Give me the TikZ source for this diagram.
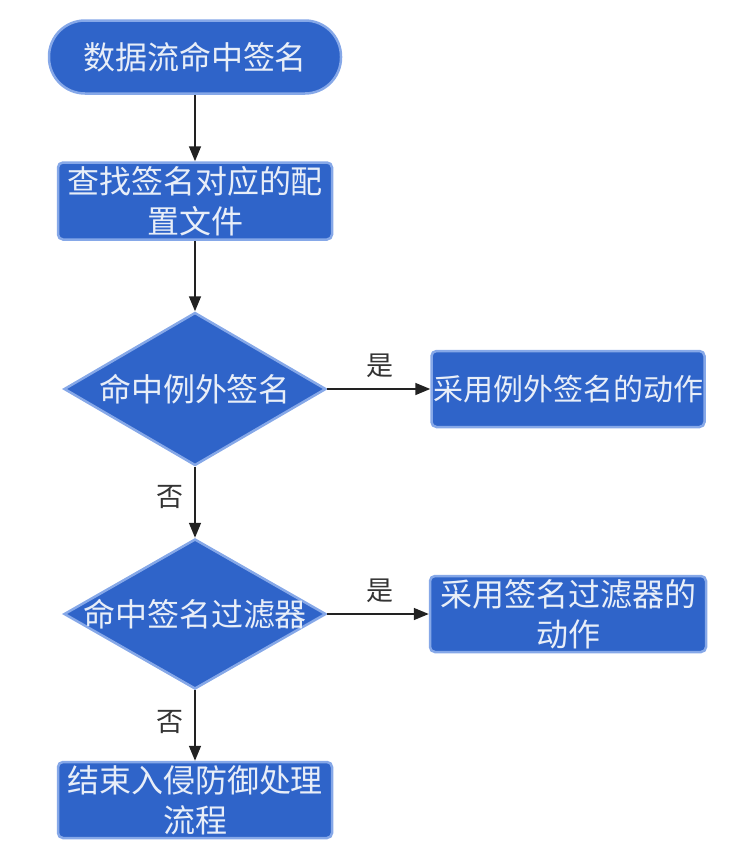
\documentclass[tikz,border=0pt]{standalone}
\usepackage{fontspec}
\newfontfamily\cjk{Noto Sans CJK SC}
\usetikzlibrary{arrows.meta,shapes.geometric}
\definecolor{boxfill}{HTML}{2F64C9}
\definecolor{boxline}{HTML}{86A8E8}
\definecolor{boxtext}{HTML}{E8EEF8}
\definecolor{lbl}{HTML}{333333}
\definecolor{arrcol}{HTML}{222222}
\begin{document}
\begin{tikzpicture}[x=1pt,y=-1pt,
  boxtxt/.style={text=boxtext,font=\cjk\fontsize{32}{40}\selectfont,align=center},
  box/.style={boxtxt,draw=boxline,line width=2.5pt,fill=boxfill,rounded corners=5pt,inner sep=0pt,minimum width=274pt,minimum height=77pt},
  term/.style={box,rounded corners=36pt,minimum width=292pt,minimum height=73pt},
  dia/.style={draw=boxline,line width=2.5pt,fill=boxfill,shape=diamond,inner sep=0pt,minimum width=262pt,minimum height=153pt},
  lab/.style={text=lbl,font=\cjk\fontsize{27}{30}\selectfont,inner sep=0pt},
  arr/.style={draw=arrcol,line width=1.6pt,-{Triangle[length=15pt,width=12pt]}}]
\useasboundingbox (0,0) rectangle (729,860);
\node[term] (t) at (195,57) {数据流命中签名};
\node[box] (r1) at (195,201) {查找签名对应的配\\置文件};
\node[dia] (d1) at (195,389) {};
\node[boxtxt] (d1t) at (d1.center) {命中例外签名};
\node[box,minimum width=273pt,minimum height=76pt,font=\cjk\fontsize{30}{40}\selectfont] (r2) at (568,389) {采用例外签名的动作};
\node[dia,minimum height=150pt] (d2) at (195,614) {};
\node[boxtxt] (d2t) at (d2.center) {命中签名过滤器};
\node[box,minimum width=276pt,minimum height=76pt] (r3) at (568,614) {采用签名过滤器的\\动作};
\node[box,minimum height=76pt] (r4) at (195,800) {结束入侵防御处理\\流程};
\draw[arr] (t) -- (r1);
\draw[arr] (r1) -- (d1);
\draw[arr] (d1) -- (r2);
\draw[arr] (d1) -- (d2);
\draw[arr] (d2) -- (r3);
\draw[arr] (d2) -- (r4);
\node[lab] (y1) at (380,366) {是};
\node[lab] (n1) at (170,497) {否};
\node[lab] (y2) at (380,591) {是};
\node[lab] (n2) at (170,722) {否};
\end{tikzpicture}
\end{document}
